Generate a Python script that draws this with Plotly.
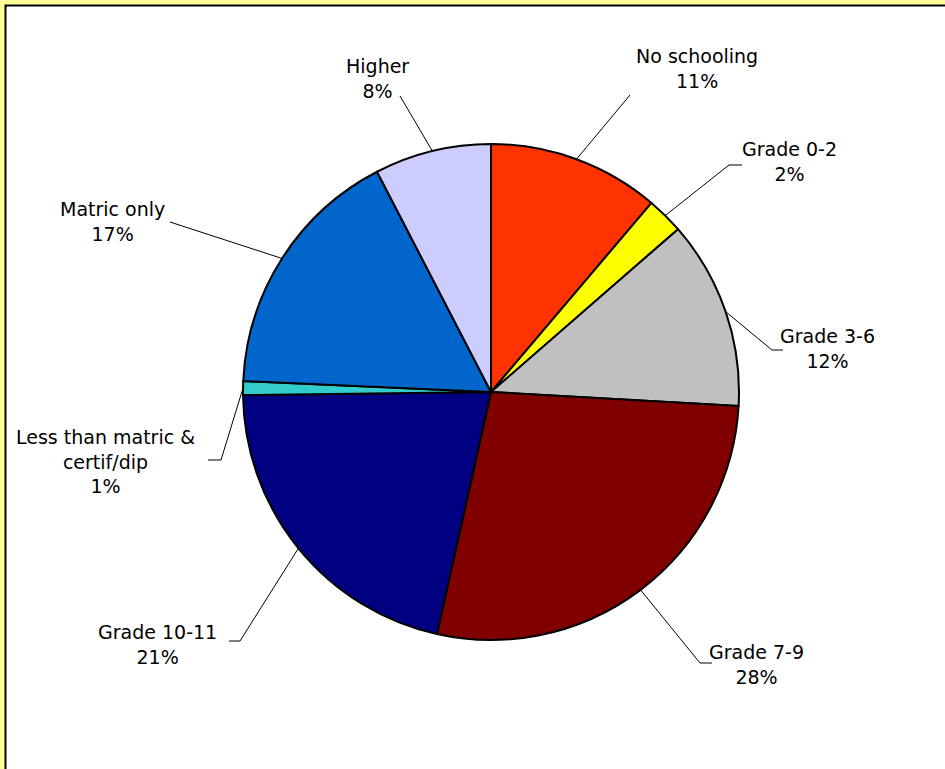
import math
import plotly.graph_objects as go

# ---- data ----
categories = ["No schooling", "Grade 0-2", "Grade 3-6", "Grade 7-9", "Grade 10-11",
              "Less than matric &<br>certif/dip", "Matric only", "Higher"]
shares = [11.2, 2.4, 12.3, 27.6, 21.3, 0.9, 16.7, 7.6]
slice_colors = ["#FF3300", "#FFFF00", "#C0C0C0", "#800000", "#000080",
                "#33CCCC", "#0066CC", "#CCCCFF"]

# ---- layout (pixel positions of label text and leader-line bends) ----
W, H = 945, 769
CX, CY, R = 491, 392, 248
label_pos = [(697, 68), (789, 161), (827, 348), (756, 664), (157, 644),
             (105, 461), (112, 221), (377, 78)]
leader_bends = [[(630, 95)], [(729, 165), (742, 165)], [(772, 350), (783, 350)],
                [(700, 663), (712, 663)], [(240, 641), (229, 641)],
                [(221, 460), (208, 460)], [(170, 222)], [(400, 96)]]

total = sum(shares)
fig = go.Figure()

fig.add_trace(go.Pie(
    labels=categories, values=shares, sort=False, direction="clockwise", rotation=0,
    marker=dict(colors=slice_colors, line=dict(color="black", width=2)),
    textinfo="none", hoverinfo="label+percent", showlegend=False,
    domain=dict(x=[(CX - R) / W, (CX + R) / W], y=[1 - (CY + R) / H, 1 - (CY - R) / H]),
))

cum = 0.0
annotations = []
for i, (cat, v) in enumerate(zip(categories, shares)):
    mid = (cum + v / 2) / total * 2 * math.pi
    cum += v
    ex = CX + R * math.sin(mid)
    ey = CY - R * math.cos(mid)
    pts = [(ex, ey)] + leader_bends[i]
    fig.add_trace(go.Scatter(x=[p[0] for p in pts], y=[p[1] for p in pts], mode="lines",
                             line=dict(color="black", width=1), hoverinfo="skip",
                             showlegend=False))
    pct = round(v / total * 100)
    lx, ly = label_pos[i]
    annotations.append(dict(x=lx, y=ly, xref="x", yref="y", showarrow=False,
                            text=f"{cat}<br>{pct}%", align="center",
                            font=dict(family="DejaVu Sans", size=19, color="black")))

fig.update_layout(
    width=W, height=H, margin=dict(l=0, r=0, t=0, b=0),
    paper_bgcolor="#FFFF99", plot_bgcolor="rgba(0,0,0,0)",
    xaxis=dict(range=[0, W], visible=False, fixedrange=True),
    yaxis=dict(range=[H, 0], visible=False, fixedrange=True),
    annotations=annotations,
    shapes=[dict(type="rect", xref="paper", yref="paper", x0=5.5 / W, x1=1.05,
                 y0=-0.05, y1=1 - 5.5 / H, fillcolor="white",
                 line=dict(color="black", width=2), layer="below")],
)

fig.write_html("out.html", config={"displayModeBar": False},
               post_script="document.body.style.margin='0';document.body.style.overflow='hidden';")
